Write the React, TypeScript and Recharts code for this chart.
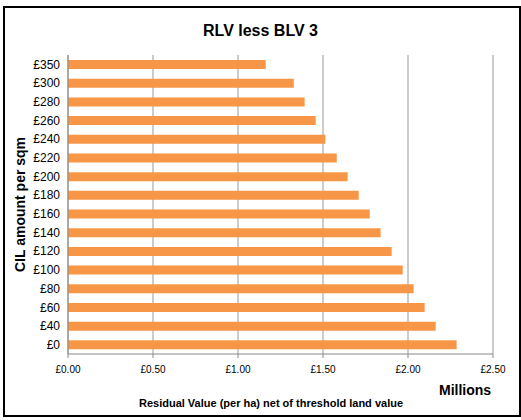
import { BarChart, Bar, XAxis, YAxis, CartesianGrid, Label } from 'recharts';

// CIL amount per sqm, top to bottom as drawn
const categories = ['£350', '£300', '£280', '£260', '£240', '£220', '£200', '£180', '£160', '£140', '£120', '£100', '£80', '£60', '£40', '£0'];
// residual value net of threshold land value, £ millions per ha
const residual = [1.163, 1.328, 1.392, 1.457, 1.514, 1.581, 1.645, 1.71, 1.775, 1.839, 1.904, 1.969, 2.033, 2.098, 2.163, 2.286];
const xTicks = [0, 0.5, 1, 1.5, 2, 2.5];

const data = categories.map((c, i) => ({ cil: c, value: residual[i] }));

const FONT = 'Arial, "Liberation Sans", sans-serif';

export default function App() {
  return (
    <div style={{ position: 'absolute', left: 0, top: 0, width: 521, height: 420, background: '#fff', fontFamily: FONT }}>
      <div
        style={{
          position: 'absolute',
          left: 3,
          top: 6,
          width: 514,
          height: 407,
          border: '2px solid #000',
        }}
      />
      <div
        style={{
          position: 'absolute',
          left: 0,
          width: 521,
          top: 21,
          textAlign: 'center',
          fontSize: 16,
          fontWeight: 700,
          lineHeight: '20px',
        }}
      >
        RLV less BLV 3
      </div>
      <div
        style={{
          position: 'absolute',
          left: 439,
          top: 381,
          fontSize: 14,
          fontWeight: 700,
          lineHeight: '18px',
        }}
      >
        Millions
      </div>
      <div
        style={{
          position: 'absolute',
          left: 0,
          width: 542,
          top: 396,
          textAlign: 'center',
          fontSize: 11,
          fontWeight: 700,
          lineHeight: '14px',
        }}
      >
        Residual Value (per ha) net of threshold land value
      </div>
      <div style={{ position: 'absolute', left: 0, top: 0 }}>
        <BarChart
          width={521}
          height={420}
          data={data}
          layout="vertical"
          margin={{ top: 55, right: 28, left: 0, bottom: 36 }}
          barSize={9}
        >
          <CartesianGrid horizontal={false} stroke="#999" strokeWidth={1} />
          <XAxis
            type="number"
            domain={[0, 2.5]}
            ticks={xTicks}
            tickFormatter={(v: number) => `£${v.toFixed(2)}`}
            stroke="#888"
            tickSize={4}
            tickMargin={8}
            height={30}
            tick={{ fill: '#000', fontSize: 10, fontFamily: FONT }}
          />
          <YAxis
            type="category"
            dataKey="cil"
            width={68}
            stroke="#888"
            tickLine={false}
            tick={{ fill: '#000', fontSize: 12, fontFamily: FONT }}
            interval={0}
          >
            <Label
              value="CIL amount per sqm"
              angle={-90}
              position="insideLeft"
              offset={20}
              style={{ textAnchor: 'middle', fontSize: 14, fontWeight: 700, fill: '#000', fontFamily: FONT }}
            />
          </YAxis>
          <Bar dataKey="value" fill="#F79646" isAnimationActive={false} />
        </BarChart>
      </div>
    </div>
  );
}
